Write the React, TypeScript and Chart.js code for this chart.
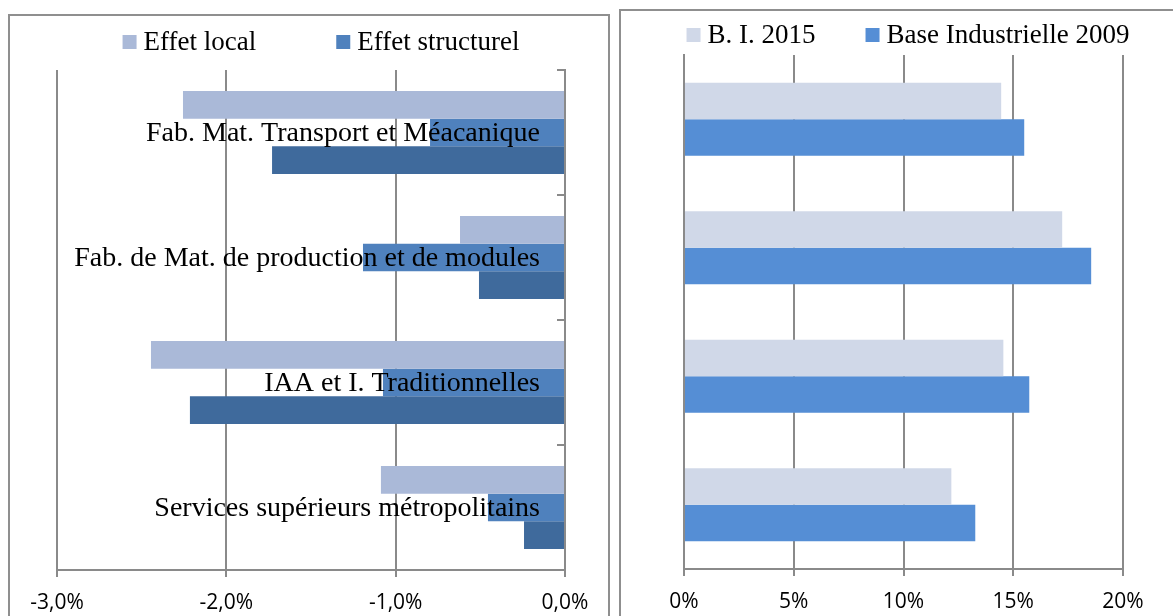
import React, { useEffect, useRef } from "react";
import { Chart, registerables } from "chart.js";

Chart.register(...registerables);

// ---------- data ----------
const categories = [
  "Fab. Mat. Transport et Méacanique",
  "Fab. de Mat. de production et de modules",
  "IAA et I. Traditionnelles",
  "Services supérieurs métropolitains",
];
const effetLocal = [-2.256, -0.62, -2.445, -1.087];
const effetStructurel = [-0.797, -1.193, -1.075, -0.455];
const effetTotal = [-1.73, -0.508, -2.215, -0.242];
const leftTicks = [-3, -2, -1, 0];

const bi2015 = [14.45, 17.23, 14.55, 12.18];
const base2009 = [15.5, 18.55, 15.73, 13.27];
const rightTicks = [0, 5, 10, 15, 20];

// ---------- styles ----------
const GRID = "#8a8a8a";
const SERIF = "'Liberation Serif', serif";
const SANS = "'Open Sans', sans-serif";

const legendPlugin = {
  id: "customLegend",
  afterDraw(chart: any, _args: any, opts: any) {
    const { ctx } = chart;
    ctx.save();
    ctx.font = opts.font;
    const box = 14;
    const boxGap = 7;
    const items = opts.items.map((i: number) => chart.data.datasets[i]);
    const widths = items.map((d: any) => box + boxGap + ctx.measureText(d.label).width);
    const total = widths.reduce((a: number, b: number) => a + b, 0) + opts.gap * (items.length - 1);
    let x = opts.cx - total / 2;
    const y = opts.cy;
    items.forEach((d: any, k: number) => {
      ctx.fillStyle = d.backgroundColor;
      ctx.fillRect(x, y - box / 2, box, box);
      ctx.fillStyle = "#000";
      ctx.textAlign = "left";
      ctx.textBaseline = "middle";
      ctx.fillText(d.label, x + box + boxGap, y + 1);
      x += widths[k] + opts.gap;
    });
    ctx.restore();
  },
};

const inLabelsPlugin = {
  id: "inLabels",
  afterDatasetsDraw(chart: any, _args: any, opts: any) {
    if (!opts || !opts.enabled) return;
    const { ctx, chartArea } = chart;
    const yScale = chart.scales.y;
    ctx.save();
    ctx.font = opts.font;
    ctx.fillStyle = "#000";
    ctx.textAlign = "right";
    ctx.textBaseline = "middle";
    chart.data.labels.forEach((lab: string, i: number) => {
      ctx.fillText(lab, chartArea.right - opts.offset, yScale.getPixelForValue(i) + 1);
    });
    // inward tick marks on the category axis
    ctx.strokeStyle = GRID;
    ctx.lineWidth = 2;
    for (let i = 0; i <= chart.data.labels.length; i++) {
      const y = Math.round(yScale.getPixelForValue(i - 0.5));
      ctx.beginPath();
      ctx.moveTo(chartArea.right - 8, y);
      ctx.lineTo(chartArea.right, y);
      ctx.stroke();
    }
    ctx.restore();
  },
};

function LeftChart() {
  const ref = useRef<HTMLCanvasElement | null>(null);
  useEffect(() => {
    const chart = new Chart(ref.current as HTMLCanvasElement, {
      type: "bar",
      data: {
        labels: categories,
        datasets: [
          { label: "Effet local", data: effetLocal, backgroundColor: "#aab9d8" },
          { label: "Effet structurel", data: effetStructurel, backgroundColor: "#4f81bd" },
          { label: "Effet total", data: effetTotal, backgroundColor: "#3f6a9c" },
        ],
      },
      options: {
        indexAxis: "y",
        responsive: false,
        animation: false,
        events: [],
        layout: { padding: { left: 57, right: 45, top: 70, bottom: 0 } },
        datasets: { bar: { categoryPercentage: 0.664, barPercentage: 1, borderWidth: 0 } },
        scales: {
          x: {
            type: "linear",
            min: -3,
            max: 0,
            afterBuildTicks: (s: any) => {
              s.ticks = leftTicks.map((v) => ({ value: v }));
            },
            afterFit: (s: any) => {
              s.height = 46;
            },
            grid: { color: GRID, lineWidth: 2, tickLength: 7, tickColor: GRID, drawTicks: true },
            border: { display: true, color: GRID, width: 2 },
            ticks: {
              color: "#000",
              font: { family: SANS, size: 21 },
              padding: 13,
              maxRotation: 0,
              callback: (v: any) => Number(v).toFixed(1).replace(".", ",") + "%",
            },
          },
          y: {
            type: "category",
            position: "right",
            z: 1,
            afterFit: (s: any) => {
              s.width = 0;
            },
            grid: { display: false },
            border: { display: true, color: GRID, width: 2 },
            ticks: { display: false },
          },
        },
        plugins: {
          legend: { display: false },
          tooltip: { enabled: false },
          customLegend: { items: [0, 1], font: `27px ${SERIF}`, gap: 80, cx: 321, cy: 42 },
          inLabels: { enabled: true, font: `28px ${SERIF}`, offset: 25 },
        } as any,
      },
      plugins: [legendPlugin, inLabelsPlugin],
    });
    return () => chart.destroy();
  }, []);
  return <canvas ref={ref} width={610} height={616} style={{ position: "absolute", left: 0, top: 0 }} />;
}

function RightChart() {
  const ref = useRef<HTMLCanvasElement | null>(null);
  useEffect(() => {
    const chart = new Chart(ref.current as HTMLCanvasElement, {
      type: "bar",
      data: {
        labels: categories,
        datasets: [
          { label: "B. I. 2015", data: bi2015, backgroundColor: "#d0d8e8" },
          { label: "Base Industrielle 2009", data: base2009, backgroundColor: "#558ed5" },
        ],
      },
      options: {
        indexAxis: "y",
        responsive: false,
        animation: false,
        events: [],
        layout: { padding: { left: 74, right: 50, top: 55, bottom: 0 } },
        datasets: { bar: { categoryPercentage: 0.568, barPercentage: 1, borderWidth: 0 } },
        scales: {
          x: {
            type: "linear",
            min: 0,
            max: 20,
            afterBuildTicks: (s: any) => {
              s.ticks = rightTicks.map((v) => ({ value: v }));
            },
            afterFit: (s: any) => {
              s.height = 47;
            },
            grid: { color: GRID, lineWidth: 2, tickLength: 7, tickColor: GRID, drawTicks: true },
            border: { display: true, color: GRID, width: 2 },
            ticks: {
              color: "#000",
              font: { family: SANS, size: 21 },
              padding: 13,
              maxRotation: 0,
              callback: (v: any) => Number(v).toFixed(0) + "%",
            },
          },
          y: {
            type: "category",
            position: "left",
            z: 1,
            afterFit: (s: any) => {
              s.width = 0;
            },
            grid: { display: false },
            border: { display: true, color: GRID, width: 2 },
            ticks: { display: false },
          },
        },
        plugins: {
          legend: { display: false },
          tooltip: { enabled: false },
          customLegend: { items: [0, 1], font: `27px ${SERIF}`, gap: 50, cx: 298, cy: 35 },
          inLabels: { enabled: false },
        } as any,
      },
      plugins: [legendPlugin, inLabelsPlugin],
    });
    return () => chart.destroy();
  }, []);
  return <canvas ref={ref} width={563} height={616} style={{ position: "absolute", left: 610, top: 0 }} />;
}

export default function App() {
  return (
    <div
      style={{
        position: "fixed",
        left: 0,
        top: 0,
        width: 1173,
        height: 616,
        overflow: "hidden",
        background: "#fff",
      }}
    >
      <div
        style={{
          position: "absolute",
          left: 8,
          top: 14,
          width: 602,
          height: 700,
          border: "2px solid #8f8f8f",
          boxSizing: "border-box",
        }}
      />
      <div
        style={{
          position: "absolute",
          left: 619,
          top: 9,
          width: 600,
          height: 700,
          border: "2px solid #8f8f8f",
          boxSizing: "border-box",
        }}
      />
      <LeftChart />
      <RightChart />
    </div>
  );
}
